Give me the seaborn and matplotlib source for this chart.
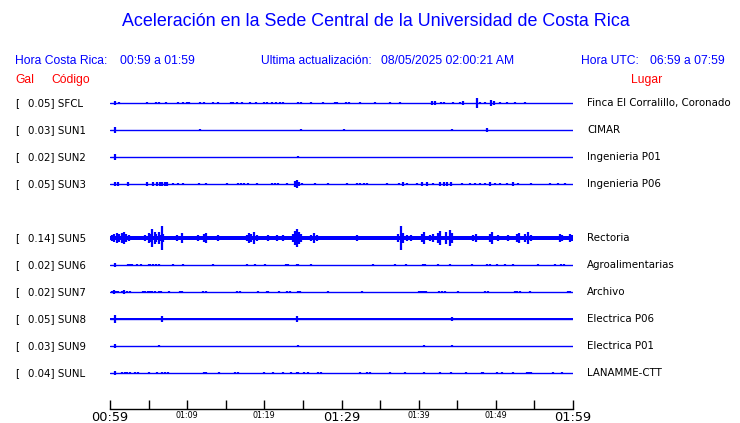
import matplotlib
matplotlib.use('Agg')
import matplotlib.pyplot as plt
import matplotlib.transforms as mtransforms
import seaborn as sns
import pandas as pd

sns.set_style('white')
plt.rcParams['font.family'] = ['DejaVu Sans']
plt.rcParams['text.color'] = 'black'
plt.rcParams['xtick.color'] = 'black'

BLUE = '#0000ff'
RED = '#ff0000'

# estaciones (de arriba hacia abajo, SUN4 no aparece)
codes = ['SFCL', 'SUN1', 'SUN2', 'SUN3', 'SUN5', 'SUN6', 'SUN7', 'SUN8', 'SUN9', 'SUNL']
gal = ['0.05', '0.03', '0.02', '0.05', '0.14', '0.02', '0.02', '0.05', '0.03', '0.04']
places = ['Finca El Corralillo, Coronado', 'CIMAR', 'Ingenieria P01', 'Ingenieria P06',
          'Rectoria', 'Agroalimentarias', 'Archivo', 'Electrica P06', 'Electrica P01',
          'LANAMME-CTT']

# eje de tiempo: minutos desde 00:59
tick_minutes = list(range(0, 61, 5))
tick_labels = ['00:59', '', '01:09', '', '01:19', '', '01:29', '', '01:39', '', '01:49', '', '01:59']

# picos: (minuto, semi-amplitud en fracciones de fila)
sfcl_spikes = [(0.6, 0.07), (1.2, 0.05), (4.75, 0.04), (6.0, 0.05), (6.3, 0.05), (7.2, 0.03),
               (8.8, 0.05), (9.4, 0.05), (10.0, 0.05), (10.3, 0.05), (11.6, 0.04), (12.2, 0.04),
               (13.3, 0.05), (14.0, 0.05), (15.7, 0.05), (15.9, 0.05), (16.5, 0.04), (17.1, 0.04),
               (18.1, 0.04), (18.9, 0.04), (20.0, 0.05), (20.4, 0.05), (21.0, 0.04), (21.5, 0.04),
               (22.0, 0.05), (22.4, 0.05), (24.4, 0.05), (24.8, 0.05), (26.0, 0.05), (27.6, 0.04),
               (29.2, 0.05), (29.4, 0.05), (30.6, 0.05), (31.0, 0.05), (32.4, 0.05), (34.3, 0.03),
               (36.3, 0.05), (37.6, 0.05), (41.7, 0.07), (42.1, 0.06), (42.9, 0.05), (43.3, 0.05),
               (44.4, 0.04), (45.3, 0.05), (45.7, 0.06), (47.6, 0.19), (48.0, 0.05), (48.6, 0.04),
               (49.4, 0.10), (49.7, 0.09), (50.5, 0.05), (51.4, 0.03), (52.5, 0.04), (53.8, 0.05)]
sun1_spikes = [(0.65, 0.10), (11.6, 0.05), (24.7, 0.03), (30.3, 0.05), (44.3, 0.05), (48.8, 0.06)]
sun2_spikes = [(0.65, 0.10), (24.3, 0.03)]
sun3_spikes = [(0.6, 0.09), (1.0, 0.06), (2.3, 0.06), (4.8, 0.06), (5.6, 0.06), (6.1, 0.07),
               (6.5, 0.08), (6.7, 0.09), (7.1, 0.07), (7.4, 0.06), (8.2, 0.05), (8.8, 0.05),
               (9.5, 0.05), (11.5, 0.05), (12.4, 0.05), (15.2, 0.04), (16.6, 0.05), (17.0, 0.05),
               (17.4, 0.05), (17.9, 0.05), (19.0, 0.04), (21.0, 0.05), (21.4, 0.05), (21.8, 0.05),
               (22.9, 0.04), (24.0, 0.10), (24.2, 0.13), (24.5, 0.08), (24.9, 0.05), (26.6, 0.05),
               (28.3, 0.04), (30.7, 0.04), (32.0, 0.05), (32.4, 0.05), (32.9, 0.05), (33.3, 0.05),
               (35.9, 0.05), (37.5, 0.05), (38.0, 0.06), (38.5, 0.05), (39.8, 0.05), (40.4, 0.06),
               (41.1, 0.06), (41.9, 0.05), (42.8, 0.06), (43.3, 0.06), (43.7, 0.07), (44.2, 0.09),
               (45.6, 0.04), (46.6, 0.05), (47.3, 0.05), (47.9, 0.05), (48.6, 0.05), (49.2, 0.06),
               (49.9, 0.05), (50.5, 0.04), (51.4, 0.05), (52.2, 0.06), (52.9, 0.05), (54.6, 0.05),
               (57.0, 0.05), (58.1, 0.05), (59.0, 0.04)]
sun5_spikes = [(0.2, 0.12), (0.5, 0.15), (0.9, 0.19), (1.2, 0.15), (1.5, 0.19), (1.8, 0.22),
               (2.1, 0.15), (2.4, 0.11), (2.7, 0.09),
               (4.6, 0.12), (5.0, 0.19), (5.3, 0.15), (5.5, 0.35), (5.8, 0.22), (6.0, 0.15),
               (6.3, 0.22), (6.5, 0.12), (6.7, 0.44), (6.9, 0.15),
               (8.3, 0.09), (8.7, 0.11), (9.0, 0.09), (9.3, 0.19), (11.0, 0.09), (11.4, 0.11),
               (12.2, 0.15), (12.5, 0.19), (14.0, 0.11), (14.3, 0.09), (15.1, 0.09),
               (17.7, 0.12), (18.0, 0.19), (18.3, 0.15), (18.7, 0.22), (19.0, 0.12),
               (19.9, 0.08), (20.5, 0.10), (21.0, 0.08), (21.6, 0.11), (22.0, 0.08), (22.4, 0.10),
               (23.7, 0.15), (24.0, 0.26), (24.2, 0.33), (24.5, 0.22), (24.8, 0.15),
               (26.1, 0.12), (26.5, 0.19), (26.8, 0.12),
               (31.3, 0.09), (32.0, 0.11), (32.6, 0.09), (33.3, 0.09), (35.4, 0.09),
               (37.3, 0.15), (37.7, 0.44), (38.0, 0.19), (38.5, 0.11), (39.0, 0.11), (39.5, 0.09),
               (40.4, 0.15), (40.7, 0.22), (41.5, 0.12), (41.9, 0.15),
               (42.5, 0.19), (42.8, 0.26), (43.6, 0.22), (44.0, 0.30), (44.3, 0.19),
               (46.0, 0.09), (47.0, 0.12), (47.4, 0.15), (48.4, 0.09), (49.2, 0.15), (49.5, 0.22),
               (50.3, 0.11), (50.7, 0.09), (51.6, 0.11), (52.7, 0.15), (53.0, 0.19),
               (53.8, 0.15), (54.2, 0.22), (54.6, 0.12),
               (57.0, 0.09), (58.3, 0.15), (58.6, 0.12), (59.6, 0.15), (59.9, 0.12)]
sun6_spikes = [(0.6, 0.06), (2.3, 0.04), (2.6, 0.04), (2.8, 0.04), (3.5, 0.04), (4.0, 0.04),
               (5.0, 0.04), (5.2, 0.04), (5.6, 0.04), (6.0, 0.04), (6.3, 0.04), (8.2, 0.05),
               (9.4, 0.03), (13.4, 0.03), (17.8, 0.04), (18.8, 0.03), (20.1, 0.04), (22.8, 0.04),
               (23.1, 0.04), (24.2, 0.04), (24.4, 0.04), (26.1, 0.04), (34.1, 0.04), (36.9, 0.04),
               (38.4, 0.04), (40.6, 0.04), (40.8, 0.04), (42.5, 0.04), (44.1, 0.04), (46.9, 0.03),
               (48.9, 0.04), (49.2, 0.04), (50.1, 0.03), (51.2, 0.03), (52.2, 0.03), (55.5, 0.03),
               (57.7, 0.04), (58.5, 0.04), (58.8, 0.04)]
sun7_spikes = [(0.2, 0.05), (0.5, 0.06), (0.8, 0.05), (1.1, 0.05), (1.5, 0.05), (1.8, 0.06),
               (2.2, 0.05), (2.6, 0.04), (4.3, 0.04), (4.6, 0.04), (4.9, 0.04), (5.2, 0.04),
               (5.4, 0.04), (5.8, 0.05), (6.4, 0.04), (6.6, 0.04), (7.6, 0.04), (9.1, 0.05),
               (9.3, 0.04), (12.1, 0.04), (12.4, 0.04), (16.4, 0.04), (16.9, 0.04), (19.2, 0.04),
               (20.3, 0.05), (20.5, 0.04), (21.9, 0.04), (22.9, 0.04), (23.3, 0.04), (24.3, 0.04),
               (24.6, 0.04), (28.3, 0.04), (32.6, 0.04), (40.0, 0.04), (40.3, 0.04), (40.6, 0.04),
               (40.8, 0.04), (41.0, 0.04), (42.6, 0.04), (43.0, 0.05), (43.4, 0.04), (45.1, 0.04),
               (48.6, 0.04), (49.0, 0.04), (52.5, 0.04), (52.8, 0.05), (53.1, 0.04), (54.4, 0.04),
               (59.4, 0.05), (59.6, 0.05)]
sun8_spikes = [(0.6, 0.15), (6.7, 0.11), (24.2, 0.11), (44.3, 0.09)]
sun9_spikes = [(0.6, 0.07), (6.3, 0.02), (24.3, 0.04), (40.7, 0.03), (44.3, 0.04)]
sunl_spikes = [(0.6, 0.07), (1.5, 0.05), (1.9, 0.05), (2.2, 0.05), (2.6, 0.05), (3.2, 0.04),
               (3.6, 0.04), (5.1, 0.03), (6.1, 0.03), (6.8, 0.05), (7.1, 0.05), (7.5, 0.05),
               (12.2, 0.04), (12.5, 0.04), (14.1, 0.05), (16.2, 0.05), (16.6, 0.05), (19.9, 0.05),
               (21.1, 0.03), (22.4, 0.04), (23.5, 0.03), (24.2, 0.05), (24.4, 0.05), (25.2, 0.04),
               (25.6, 0.04), (27.0, 0.05), (27.3, 0.05), (32.4, 0.03), (33.3, 0.05), (33.7, 0.05),
               (36.3, 0.04), (38.2, 0.03), (40.7, 0.04), (42.8, 0.03), (44.2, 0.04), (46.1, 0.03),
               (48.2, 0.05), (48.4, 0.05), (50.1, 0.04), (50.8, 0.03), (52.2, 0.04), (54.0, 0.05),
               (54.3, 0.05), (54.6, 0.05), (57.4, 0.03), (58.6, 0.03)]

spikes = [sfcl_spikes, sun1_spikes, sun2_spikes, sun3_spikes, sun5_spikes,
          sun6_spikes, sun7_spikes, sun8_spikes, sun9_spikes, sunl_spikes]
# estaciones con ruido de fondo continuo (banda gruesa)
noisy = {'SUN5': 0.07, 'SUN8': 0.055}

W, H = 740, 423
fig = plt.figure(figsize=(W / 100, H / 100), dpi=100)


def fx(x):
    return x / W


def fy(y):
    return 1 - y / H


# ejes de trazas: x 110..573 px, y 90..409 px
ax = fig.add_axes([fx(110), fy(409), fx(573) - fx(110), (409 - 90) / H])

rows = [i + (1 if i >= 4 else 0) for i in range(len(codes))]
base_df = pd.DataFrame({
    'code': [c for c in codes for _ in range(2)],
    'minute': [m for _ in codes for m in (0, 60)],
    'row': [r for r in rows for _ in range(2)],
})
sns.lineplot(data=base_df, x='minute', y='row', units='code', estimator=None,
             color=BLUE, lw=1.0, ax=ax, legend=False)

for code, row, sp in zip(codes, rows, spikes):
    if code in noisy:
        b = noisy[code]
        ax.fill_between([0, 60], row - b, row + b, color=BLUE, lw=0)
    t = [s[0] for s in sp]
    a = [s[1] for s in sp]
    ax.vlines(t, [row - v for v in a], [row + v for v in a], color=BLUE, lw=1.6)

ax.set_xlim(0, 60)
ax.set_ylim((409 - 103) / 27, (90 - 103) / 27)
ax.set_xlabel('')
ax.set_ylabel('')
ax.set_yticks([])
for side in ['top', 'left', 'right']:
    ax.spines[side].set_visible(False)
ax.spines['bottom'].set_color('black')
ax.spines['bottom'].set_linewidth(1.0)
ax.set_xticks(tick_minutes)
ax.set_xticklabels(tick_labels)
ax.tick_params(axis='x', direction='in', length=6.5, width=1.0, color='black', pad=1.5,
               bottom=True, labelcolor='black')
for i, lab in enumerate(ax.get_xticklabels()):
    lab.set_fontsize(9.3 if i % 6 == 0 else 5.8)
ax.patch.set_alpha(0)

# etiquetas de estaciones
trans = mtransforms.blended_transform_factory(fig.transFigure, ax.transData)
for code, row, g, place in zip(codes, rows, gal, places):
    ax.text(fx(15), row, '[', transform=trans, fontsize=7.4, va='center', ha='left')
    ax.text(fx(27.5), row, f'{g}] {code}', transform=trans, fontsize=7.4, va='center', ha='left')
    ax.text(fx(587.3), row, place, transform=trans, fontsize=7.4, va='center', ha='left')

# encabezado
hf = ['Liberation Sans', 'DejaVu Sans']
fig.text(fx(375.5), fy(22), 'Aceleración en la Sede Central de la Universidad de Costa Rica',
         ha='center', va='center', color=BLUE, fontsize=12.9, family=hf)
hdr = [(15, 'Hora Costa Rica:'), (120.5, '00:59 a 01:59'),
       (260.7, 'Ultima actualización:'), (380.7, '08/05/2025 02:00:21 AM'),
       (581, 'Hora UTC:'), (650.4, '06:59 a 07:59')]
for x, s in hdr:
    fig.text(fx(x), fy(61), s, ha='left', va='center', color=BLUE, fontsize=8.7, family=hf)
for x, s in [(15, 'Gal'), (51, 'Código'), (631.5, 'Lugar')]:
    fig.text(fx(x), fy(80), s, ha='left', va='center', color=RED, fontsize=8.7, family=hf)

fig.savefig('out.png', dpi=100)
